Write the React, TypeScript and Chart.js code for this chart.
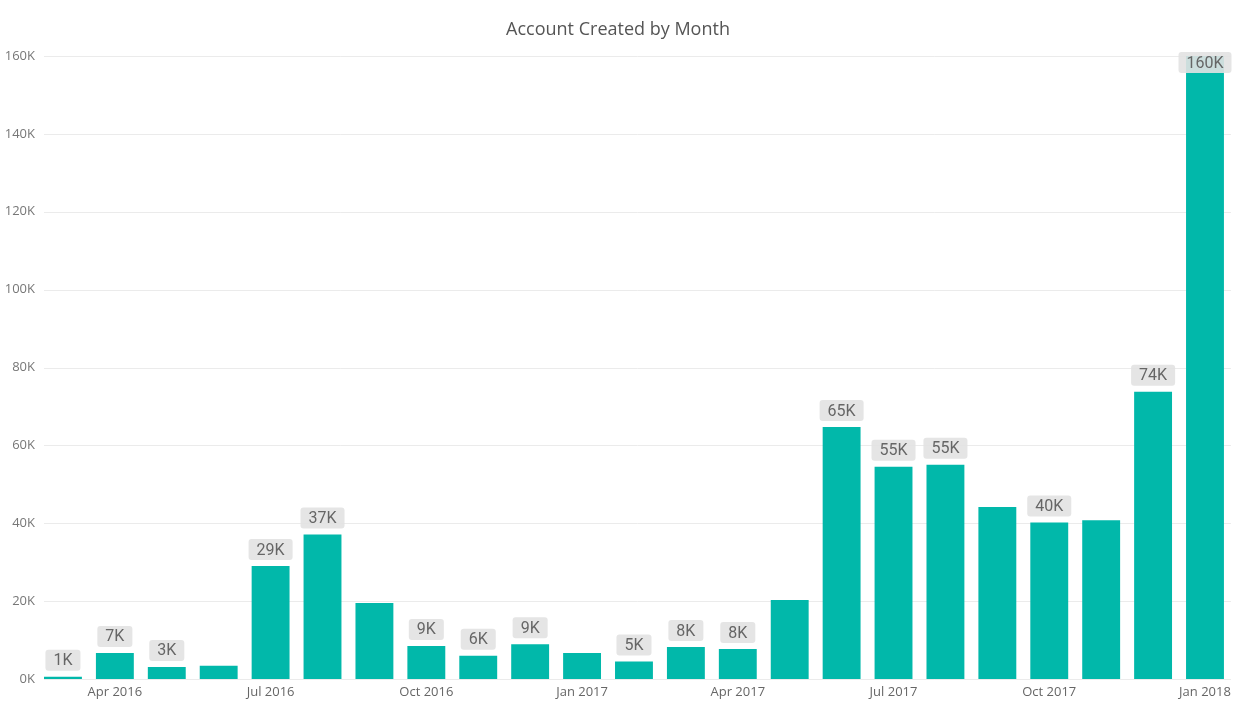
import React, { useEffect, useRef } from 'react';
import { Chart, registerables } from 'chart.js';

Chart.register(...registerables);

const chartTitle = 'Account Created by Month';

const months = [
  'Mar 2016', 'Apr 2016', 'May 2016', 'Jun 2016', 'Jul 2016', 'Aug 2016',
  'Sep 2016', 'Oct 2016', 'Nov 2016', 'Dec 2016', 'Jan 2017', 'Feb 2017',
  'Mar 2017', 'Apr 2017', 'May 2017', 'Jun 2017', 'Jul 2017', 'Aug 2017',
  'Sep 2017', 'Oct 2017', 'Nov 2017', 'Dec 2017', 'Jan 2018',
];

// values in thousands
const accounts = [
  0.6, 6.7, 3.1, 3.4, 29.0, 37.1,
  19.5, 8.5, 6.0, 8.9, 6.7, 4.5,
  8.2, 7.7, 20.3, 64.7, 54.5, 55.0,
  44.2, 40.2, 40.8, 73.8, 160,
];

const showLabel = [
  true, true, true, false, true, true,
  false, true, true, true, false, true,
  true, true, false, true, true, true,
  false, true, false, true, true,
];

const xTickLabels = [
  '', 'Apr 2016', '', '', 'Jul 2016', '',
  '', 'Oct 2016', '', '', 'Jan 2017', '',
  '', 'Apr 2017', '', '', 'Jul 2017', '',
  '', 'Oct 2017', '', '', 'Jan 2018',
];

const yTicks = [0, 20, 40, 60, 80, 100, 120, 140, 160];

const BAR_COLOR = '#01B8AA';

function roundRect(ctx: CanvasRenderingContext2D, x: number, y: number, w: number, h: number, r: number) {
  ctx.beginPath();
  ctx.moveTo(x + r, y);
  ctx.lineTo(x + w - r, y);
  ctx.quadraticCurveTo(x + w, y, x + w, y + r);
  ctx.lineTo(x + w, y + h - r);
  ctx.quadraticCurveTo(x + w, y + h, x + w - r, y + h);
  ctx.lineTo(x + r, y + h);
  ctx.quadraticCurveTo(x, y + h, x, y + h - r);
  ctx.lineTo(x, y + r);
  ctx.quadraticCurveTo(x, y, x + r, y);
  ctx.closePath();
}

const customPlugin = {
  id: 'customDraw',
  beforeDatasetsDraw(chart: any) {
    const { ctx, chartArea, scales } = chart;
    const y = scales.y;
    ctx.save();
    ctx.strokeStyle = '#ebebeb';
    ctx.lineWidth = 1;
    yTicks.forEach((t) => {
      const py = Math.round(y.getPixelForValue(t)) + 0.5;
      ctx.beginPath();
      ctx.moveTo(44, py);
      ctx.lineTo(chartArea.right, py);
      ctx.stroke();
    });
    ctx.restore();
  },
  afterDatasetsDraw(chart: any) {
    const { ctx, chartArea } = chart;
    const meta = chart.getDatasetMeta(0);
    ctx.save();
    ctx.font = '16px Roboto, "Noto Sans", sans-serif';
    ctx.textAlign = 'center';
    ctx.textBaseline = 'middle';
    meta.data.forEach((bar: any, i: number) => {
      if (!showLabel[i]) return;
      const text = Math.round(accounts[i]) + 'K';
      const tw = ctx.measureText(text).width;
      const w = tw + 16;
      const h = 21;
      let top = bar.y - 6 - h;
      if (top < chartArea.top - 4) {
        top = bar.y - 4;
      }
      const left = bar.x - w / 2;
      ctx.fillStyle = 'rgba(226,226,226,0.9)';
      roundRect(ctx, left, top, w, h, 3);
      ctx.fill();
      ctx.fillStyle = '#666666';
      ctx.fillText(text, bar.x, top + h / 2 + 1);
    });
    ctx.restore();
  },
  afterDraw(chart: any) {
    const { ctx } = chart;
    ctx.save();
    ctx.font = '18px "Open Sans", "Noto Sans", sans-serif';
    ctx.fillStyle = '#555555';
    ctx.textAlign = 'center';
    ctx.textBaseline = 'middle';
    ctx.fillText(chartTitle, 618, 30);
    ctx.restore();
  },
};

export default function App() {
  const canvasRef = useRef<HTMLCanvasElement | null>(null);

  useEffect(() => {
    if (!canvasRef.current) return;
    const chart = new Chart(canvasRef.current, {
      type: 'bar',
      data: {
        labels: months,
        datasets: [
          {
            label: 'Accounts',
            data: accounts,
            backgroundColor: BAR_COLOR,
            borderWidth: 0,
            categoryPercentage: 1,
            barPercentage: 0.73,
          },
        ],
      },
      options: {
        responsive: false,
        maintainAspectRatio: false,
        animation: false,
        layout: { padding: { top: 56, right: 5, left: 0, bottom: 0 } },
        plugins: {
          legend: { display: false },
          title: { display: false },
          tooltip: { enabled: false },
        },
        scales: {
          x: {
            grid: { display: false, drawTicks: false },
            border: { display: false },
            ticks: {
              autoSkip: false,
              maxRotation: 0,
              minRotation: 0,
              padding: 5,
              color: '#666666',
              font: { family: '"Open Sans", "Noto Sans", sans-serif', size: 13 },
              callback: (_v: any, i: number) => xTickLabels[i],
            },
            afterFit: (s: any) => {
              s.height = 24;
            },
          },
          y: {
            min: 0,
            max: 160,
            grid: { display: false, drawTicks: false },
            border: { display: false },
            ticks: {
              stepSize: 20,
              padding: 2,
              color: '#777777',
              font: { family: '"Open Sans", "Noto Sans", sans-serif', size: 13 },
              callback: (v: any) => v + 'K',
            },
            afterFit: (s: any) => {
              s.width = 37;
            },
          },
        },
      },
      plugins: [customPlugin],
    });
    return () => chart.destroy();
  }, []);

  return (
    <div style={{ position: 'absolute', left: 0, top: 0, width: 1236, height: 703, background: '#fff' }}>
      <canvas ref={canvasRef} width={1236} height={703} style={{ width: 1236, height: 703 }} />
    </div>
  );
}
